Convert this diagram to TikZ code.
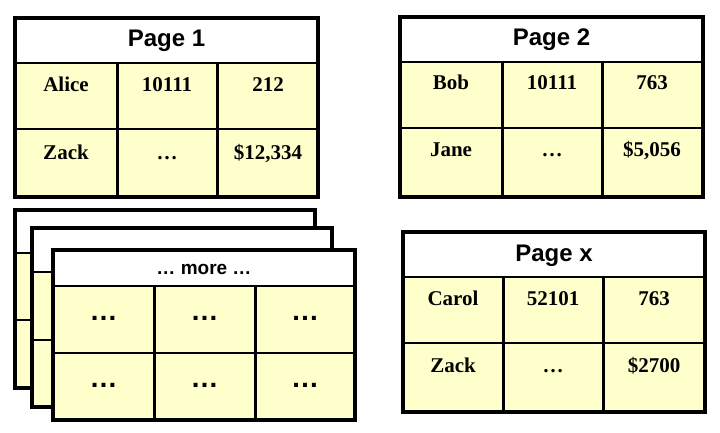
\documentclass[tikz,border=0pt]{standalone}
\usepackage{fontspec}
\setmainfont{Liberation Serif}
\newfontfamily\hdfont{Liberation Sans}
\definecolor{cellfill}{HTML}{FFFFCC}
\tikzset{
  outerline/.style={line width=3.5pt},
  colline/.style={line width=3pt},
  rowline/.style={line width=2pt},
  hdtext/.style={font=\hdfont\bfseries\fontsize{24}{28}\selectfont, inner sep=0pt},
  moretext/.style={font=\hdfont\bfseries\fontsize{19}{22}\selectfont, inner sep=0pt},
  celltext/.style={font=\bfseries\fontsize{21}{25}\selectfont, inner sep=0pt, text height=14pt, text depth=0pt},
  dottext/.style={font=\hdfont\bfseries\fontsize{28}{30}\selectfont, inner sep=0pt, anchor=base},
}
% #1 x0, #2 y0, #3 x1, #4 y1, #5 header bottom, #6 row divider, #7 col a, #8 col b
\newcommand\pagegrid[8]{%
  \fill[cellfill] (#1,#5) rectangle (#3,#4);
  \fill[white] (#1,#2) rectangle (#3,#5);
  \draw[rowline] (#1,#5) -- (#3,#5) (#1,#6) -- (#3,#6);
  \draw[colline] (#7,#5) -- (#7,#4) (#8,#5) -- (#8,#4);
  \draw[outerline] (#1,#2) rectangle (#3,#4);
}
\begin{document}
\begin{tikzpicture}[x=1pt,y=-1pt]
\useasboundingbox (0,0) rectangle (720,433);
\fill[white] (0,0) rectangle (720,433);

% Page 1
\pagegrid{15}{18}{318}{197}{63}{129}{117}{217}
\node[hdtext] (p1h) at (166.5,41) {Page 1};
\node[celltext] (p1a) at (66,85) {Alice};
\node[celltext] (p1b) at (167,85) {10111};
\node[celltext] (p1c) at (268,85) {212};
\node[celltext] (p1d) at (66,152) {Zack};
\node[celltext] (p1e) at (167,152) {…};
\node[celltext] (p1f) at (268,152) {\$12,334};

% Page 2
\pagegrid{400}{17}{703}{197}{62}{128}{502}{602}
\node[hdtext] (p2h) at (551.5,40) {Page 2};
\node[celltext] (p2a) at (451,83) {Bob};
\node[celltext] (p2b) at (552,83) {10111};
\node[celltext] (p2c) at (652,83) {763};
\node[celltext] (p2d) at (451,150) {Jane};
\node[celltext] (p2e) at (552,150) {…};
\node[celltext] (p2f) at (652,150) {\$5,056};

% Page x
\pagegrid{403}{232}{705}{412}{277}{343}{503}{603}
\node[hdtext] (pxh) at (554,256) {Page x};
\node[celltext] (pxa) at (453,298) {Carol};
\node[celltext] (pxb) at (553,298) {52101};
\node[celltext] (pxc) at (654,298) {763};
\node[celltext] (pxd) at (453,365) {Zack};
\node[celltext] (pxe) at (553,365) {…};
\node[celltext] (pxf) at (654,365) {\$2700};

% stack of more pages
\pagegrid{15}{210}{315}{388}{253}{320}{115}{215}
\pagegrid{32}{228}{332}{407}{272}{340}{132}{232}
\pagegrid{53}{250}{355}{420}{286}{353}{154}{255}
\node[moretext] (mh) at (204,269) {… more …};
\node[dottext] (m1) at (103.5,320) {…};
\node[dottext] (m2) at (204.5,320) {…};
\node[dottext] (m3) at (305,320) {…};
\node[dottext] (m4) at (103.5,387) {…};
\node[dottext] (m5) at (204.5,387) {…};
\node[dottext] (m6) at (305,387) {…};
\end{tikzpicture}
\end{document}
